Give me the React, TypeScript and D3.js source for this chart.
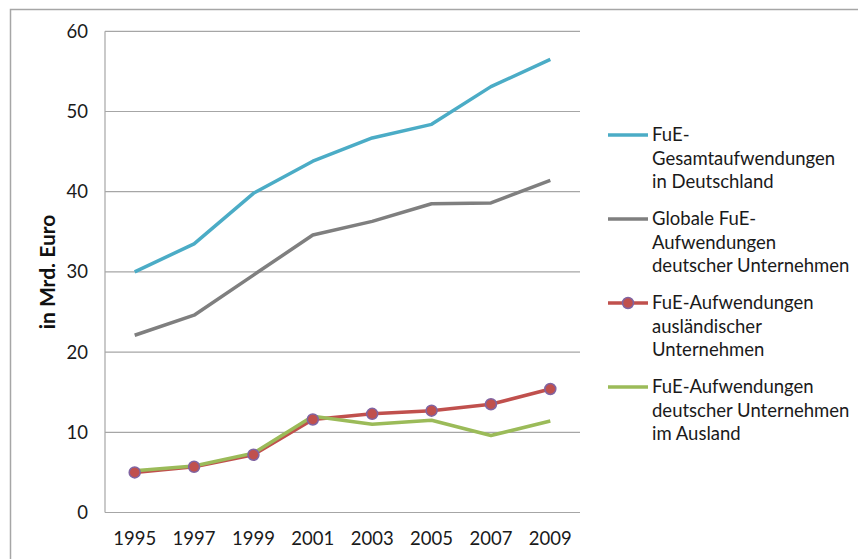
import React from "react";
import * as d3 from "d3";

const years = ["1995", "1997", "1999", "2001", "2003", "2005", "2007", "2009"];
const gesamt = [30.0, 33.5, 39.8, 43.8, 46.7, 48.4, 53.1, 56.5];
const global = [22.1, 24.6, 29.6, 34.6, 36.3, 38.5, 38.6, 41.4];
const auslaendisch = [5.0, 5.7, 7.2, 11.6, 12.3, 12.7, 13.5, 15.4];
const imAusland = [5.2, 5.8, 7.4, 12.0, 11.0, 11.5, 9.6, 11.4];
const yTicks = [0, 10, 20, 30, 40, 50, 60];

const seriesNames = [
  ["FuE-", "Gesamtaufwendungen", "in Deutschland"],
  ["Globale FuE-", "Aufwendungen", "deutscher Unternehmen"],
  ["FuE-Aufwendungen", "ausländischer", "Unternehmen"],
  ["FuE-Aufwendungen", "deutscher Unternehmen", "im Ausland"],
];
const seriesColors = ["#4BACC6", "#7F7F7F", "#C0504D", "#9BBB59"];
const seriesData = [gesamt, global, auslaendisch, imAusland];
const markers = [false, false, true, false];

const W = 858;
const H = 559;
const font = "Lato, 'Open Sans', sans-serif";

export default function App() {
  const x = d3.scaleBand().domain(years).range([105, 580]);
  const y = d3.scaleLinear().domain([0, 60]).range([512.5, 31.3]);
  const cx = (d: string) => (x(d) as number) + x.bandwidth() / 2;
  const line = d3
    .line<number>()
    .x((_, i) => cx(years[i]))
    .y((v) => y(v));

  const legendY0 = 135;
  const legendStep = 84;

  return (
    <svg
      width={W}
      height={H}
      style={{ position: "absolute", left: 0, top: 0, background: "#fff" }}
      fontFamily={font}
    >
      <rect x={10.5} y={9.5} width={W + 10} height={H + 10} fill="#fff" stroke="#A6A6A6" strokeWidth={1.5} />
      {yTicks.map((t) => (
        <g key={t}>
          {t > 0 && (
            <line x1={105} x2={580} y1={y(t)} y2={y(t)} stroke="#A6A6A6" strokeWidth={1.2} />
          )}
          <text x={88} y={y(t)} dy="0.35em" textAnchor="end" fontSize={18.5} fill="#1a1a1a">
            {t}
          </text>
        </g>
      ))}
      <line x1={105} x2={105} y1={31.3} y2={512.5} stroke="#A6A6A6" strokeWidth={1.2} />
      <line x1={105} x2={580} y1={512.5} y2={512.5} stroke="#A6A6A6" strokeWidth={1.2} />
      {years.map((yr) => (
        <text key={yr} x={cx(yr)} y={544.5} textAnchor="middle" fontSize={18.5} fill="#1a1a1a">
          {yr}
        </text>
      ))}
      <text
        transform={`translate(48,272) rotate(-90)`}
        textAnchor="middle"
        dy="0.35em"
        fontSize={21}
        fontWeight="bold"
        fill="#111"
      >
        in Mrd. Euro
      </text>
      {seriesData.map((d, si) => (
        <path
          key={si}
          d={line(d) as string}
          fill="none"
          stroke={seriesColors[si]}
          strokeWidth={3.5}
          strokeLinejoin="round"
        />
      ))}
      {seriesData.map((d, si) =>
        markers[si]
          ? d.map((v, i) => (
              <circle
                key={`${si}-${i}`}
                cx={cx(years[i])}
                cy={y(v)}
                r={5.5}
                fill="#C0504D"
                stroke="#8064A2"
                strokeWidth={1.5}
              />
            ))
          : null
      )}
      {seriesNames.map((lines, si) => {
        const ly = legendY0 + si * legendStep;
        return (
          <g key={si}>
            <line x1={608} x2={648} y1={ly} y2={ly} stroke={seriesColors[si]} strokeWidth={3.5} />
            {markers[si] && (
              <circle cx={628} cy={ly} r={5.5} fill="#C0504D" stroke="#8064A2" strokeWidth={1.5} />
            )}
            {lines.map((t, li) => (
              <text key={li} x={652} y={ly + li * 23.5} dy="0.35em" fontSize={18.5} fill="#1a1a1a">
                {t}
              </text>
            ))}
          </g>
        );
      })}
    </svg>
  );
}
